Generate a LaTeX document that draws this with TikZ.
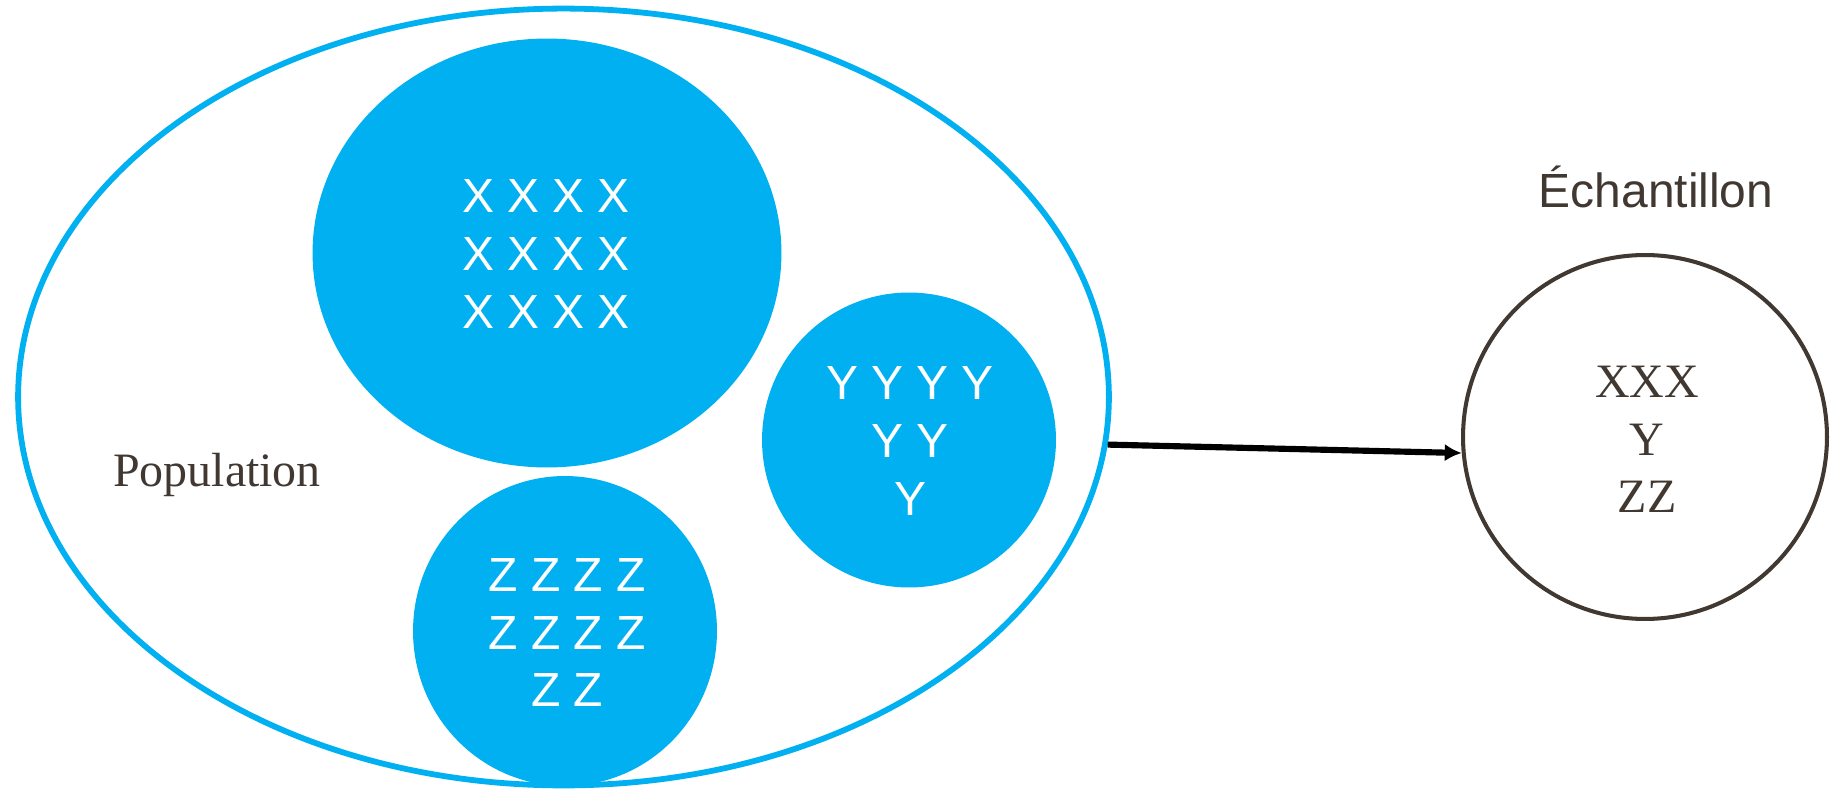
\documentclass[tikz,border=0pt]{standalone}
\usepackage{fontspec}
\setmainfont{Liberation Serif}
\setsansfont{Liberation Sans}
\usetikzlibrary{shapes.geometric,arrows.meta}
\definecolor{popblue}{RGB}{0,176,240}
\definecolor{txtbrown}{RGB}{64,56,49}
\tikzset{
  blob/.style={ellipse, fill=popblue, draw=none, inner sep=0pt},
  whitetxt/.style={text=white, font=\sffamily\fontsize{27.3}{33}\selectfont, align=center, inner sep=0pt},
  serifbig/.style={text=txtbrown, font=\rmfamily\fontsize{27.3}{32.7}\selectfont, align=center, inner sep=0pt},
}
\begin{document}
\begin{tikzpicture}[x=0.02cm,y=-0.02cm]
\useasboundingbox (0,0) rectangle (1835,790);
% population ellipse
\node[ellipse, draw=popblue, line width=3.3pt, inner sep=0pt, minimum width=21.82cm, minimum height=15.54cm] (pop) at (563.5,397) {};
% groups
\node[blob, minimum width=9.38cm, minimum height=8.58cm] (gx) at (547,253) {};
\node[blob, minimum width=5.88cm, minimum height=5.9cm] (gy) at (909,440) {};
\node[blob, minimum width=6.08cm, minimum height=6.2cm] (gz) at (565,631) {};
\node[whitetxt] (tx) at (546,254) {X X X X\\X X X X\\X X X X};
\node[whitetxt] (ty) at (910,441) {Y Y Y Y\\Y Y\\Y};
\node[whitetxt] (tz) at (567,632.5) {Z Z Z Z\\Z Z Z Z\\Z Z};
\node[text=txtbrown, font=\rmfamily\fontsize{27.3}{33}\selectfont, anchor=base, inner sep=0pt] (lpop) at (217,486) {Population};
% sample
\node[circle, draw=txtbrown, line width=2.3pt, inner sep=0pt, minimum size=7.28cm] (samp) at (1645,437) {};
\node[serifbig] (ts) at (1647,439.5) {XXX\\Y\\ZZ};
\node[text=txtbrown, font=\sffamily\fontsize{27.3}{33}\selectfont, anchor=base, inner sep=0pt] (lsamp) at (1656,208) {Échantillon};
% arrow
\draw[line width=3.5pt, -{Latex[length=9.7pt,width=10pt]}] (pop.-5.2) -- (samp.185);
\end{tikzpicture}
\end{document}
